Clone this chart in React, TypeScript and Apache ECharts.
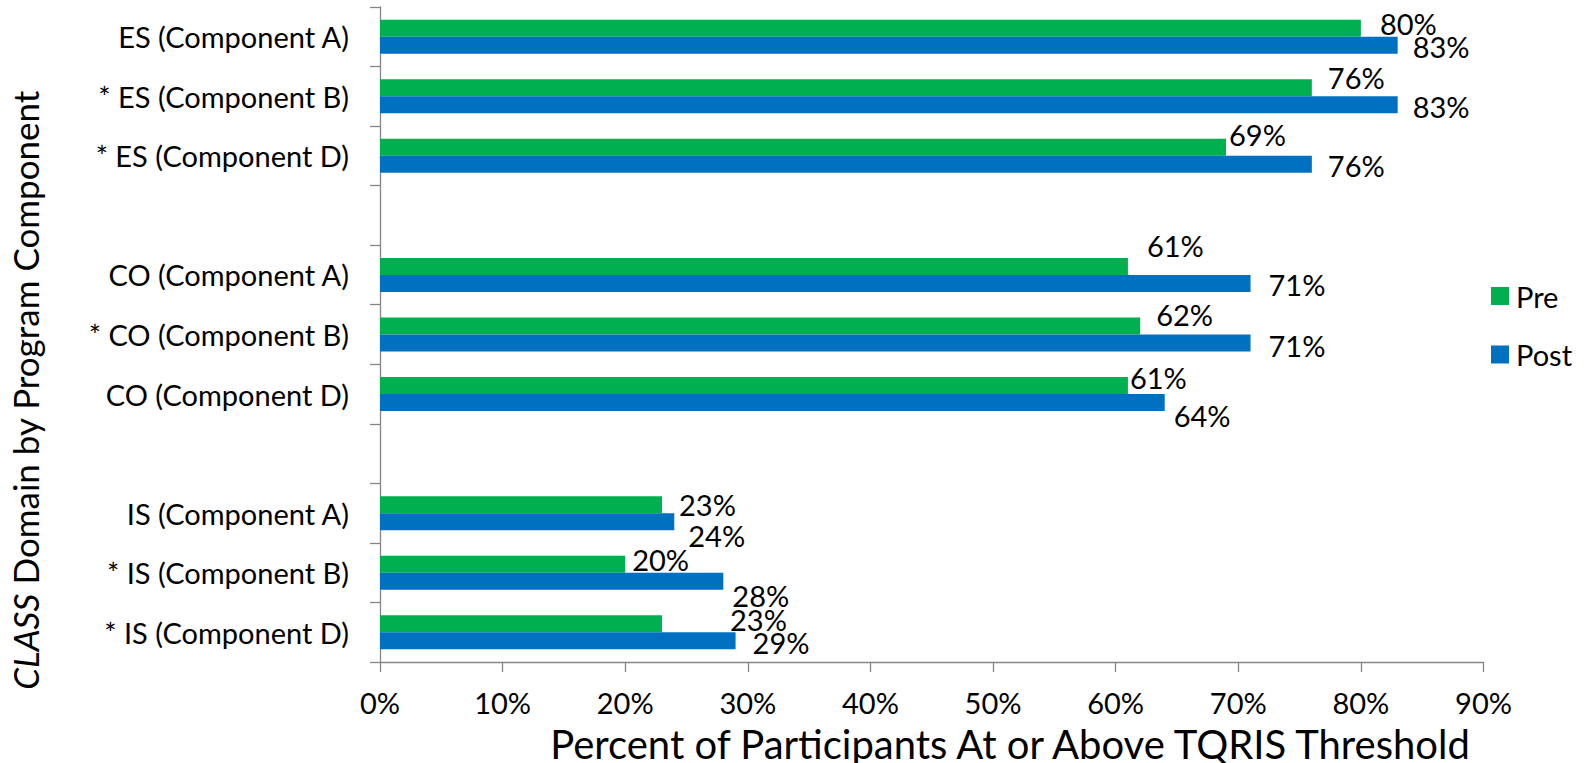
import React, { useEffect, useRef } from "react";
import * as echarts from "echarts";

const categories = [
  "ES (Component A)",
  "* ES (Component B)",
  "* ES (Component D)",
  " ",
  "CO (Component A)",
  "* CO (Component B)",
  "CO (Component D)",
  "  ",
  "IS (Component A)",
  "* IS (Component B)",
  "* IS (Component D)",
];
const preValues = [80, 76, 69, null, 61, 62, 61, null, 23, 20, 23];
const postValues = [83, 83, 76, null, 71, 71, 64, null, 24, 28, 29];
const seriesNames = ["Pre", "Post"];
const xTitle = "Percent of Participants At or Above TQRIS Threshold";
const yTitle = "{i|CLASS} Domain by Program Component";

// label nudges (as in the original, manually placed labels)
const preLabelNudge = [
  [19, -5], [16, -10], [3, -13], [0, 0], [19, -21], [16, -12], [2, -8], [0, 0], [17, 0], [7, -5], [68, -4],
];
const postLabelNudge = [
  [15, 1], [15, 2], [16, 1], [0, 0], [18, 1], [18, 2], [9, 13], [0, 0], [14, 14], [9, 14], [17, 2],
];

const FONT = "Lato";
const FS = 29;

function withLabels(values: (number | null)[], nudges: number[][]) {
  return values.map((v, i) =>
    v === null
      ? null
      : { value: v, label: { offset: nudges[i] } }
  );
}

export default function App() {
  const ref = useRef<HTMLDivElement>(null);
  useEffect(() => {
    if (!ref.current) return;
    const chart = echarts.init(ref.current, null, { renderer: "svg" });
    const labelBase = {
      show: true,
      position: "right",
      distance: 0,
      formatter: "{c}%",
      color: "#000",
      fontFamily: FONT,
      fontSize: FS,
    };
    chart.setOption({
      animation: false,
      textStyle: { fontFamily: FONT },
      grid: { left: 380, right: 105.5, top: 7, bottom: 101 },
      legend: {
        orient: "vertical",
        left: 1491,
        top: 280,
        padding: 0,
        itemWidth: 18,
        itemHeight: 18,
        itemGap: 26.5,
        icon: "rect",
        selectedMode: false,
        textStyle: { fontFamily: FONT, fontSize: FS, color: "#000", lineHeight: 32, padding: [0, 0, 0, 2] },
        data: seriesNames,
      },
      xAxis: {
        type: "value",
        min: 0,
        max: 90,
        interval: 10,
        splitLine: { show: false },
        axisLine: { show: true, lineStyle: { color: "#868686", width: 1.3 } },
        axisTick: { show: true, length: 10, lineStyle: { color: "#868686", width: 1.3 } },
        axisLabel: { formatter: "{value}%", color: "#000", fontFamily: FONT, fontSize: FS, margin: 26 },
      },
      yAxis: {
        type: "category",
        inverse: true,
        data: categories,
        axisLine: { show: true, lineStyle: { color: "#868686", width: 1.3 } },
        axisTick: { show: true, length: 10, alignWithLabel: false, lineStyle: { color: "#868686", width: 1.3 } },
        axisLabel: { color: "#000", fontFamily: FONT, fontSize: FS, margin: 31, interval: 0 },
      },
      series: [
        {
          name: seriesNames[0],
          type: "bar",
          data: withLabels(preValues, preLabelNudge),
          barWidth: 17,
          barGap: "0%",
          itemStyle: { color: "#00B050" },
          label: labelBase,
        },
        {
          name: seriesNames[1],
          type: "bar",
          data: withLabels(postValues, postLabelNudge),
          barWidth: 17,
          barGap: "0%",
          itemStyle: { color: "#0070C0" },
          label: labelBase,
        },
      ],
      graphic: [
        {
          type: "text",
          x: 25,
          y: 390,
          rotation: Math.PI / 2,
          style: {
            text: yTitle,
            fill: "#000",
            fontFamily: FONT,
            fontSize: 35,
            textAlign: "center",
            textVerticalAlign: "middle",
            rich: { i: { fontStyle: "italic", fontFamily: FONT, fontSize: 35, fill: "#000" } },
          },
        },
        {
          type: "text",
          x: 1010,
          y: 744,
          style: {
            text: xTitle,
            fill: "#000",
            fontFamily: FONT,
            fontSize: 40,
            textAlign: "center",
            textVerticalAlign: "middle",
          },
        },
      ],
    });
    return () => chart.dispose();
  }, []);
  return (
    <div
      ref={ref}
      style={{ position: "fixed", left: 0, top: 0, width: 1589, height: 763, background: "#fff" }}
    />
  );
}
